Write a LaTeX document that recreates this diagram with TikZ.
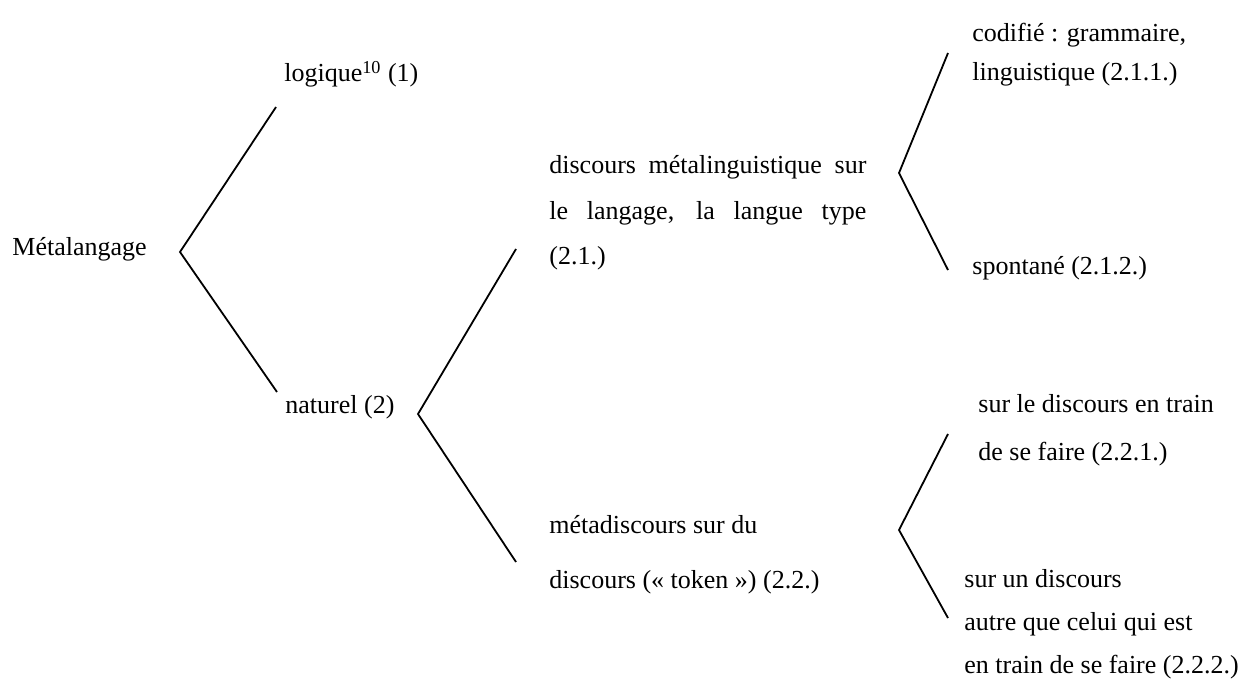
\documentclass[tikz,border=0pt]{standalone}
\usepackage{fontspec}
\setmainfont{Liberation Serif}
\usepackage{tikz}
\usetikzlibrary{positioning}
\tikzset{label text/.style={inner sep=0pt, anchor=base west, align=left}}
\tikzset{leading/.style={font=\fontsize{13}{#1}\selectfont}}

\begin{document}
\begin{tikzpicture}[
    x=0.5pt, y=-0.5pt,
    font=\fontsize{13}{20}\selectfont
  ]
  \useasboundingbox (0,0) rectangle (1248,684);

  % Global Style Definitions
  \tikzset{
    branch/.style={draw, line width=0.9pt, line join=miter}
  }

  % Root and first level
  \node (meta) [label text] at (12,256) {Métalangage};
  \node (logique) [label text] at (284,82) {logique\textsuperscript{10} (1)};
  \node (naturel) [label text] at (285,413) {naturel (2)};

  % Second level (under naturel), anchored on the last line
  \node (metaling) [label text, leading=22.75pt] at (549,265)
    {\makebox[158.5pt][s]{discours métalinguistique sur}\\
     \makebox[158.5pt][s]{le langage, la langue type}\\
     (2.1.)};
  \node (metadisc) [label text, leading=27.5pt] at (549,588)
    {métadiscours sur du\\discours (« token ») (2.2.)};

  % Third level
  \node (codifie) [label text, leading=19.5pt] at (972,81)
    {codifié : grammaire,\\linguistique (2.1.1.)};
  \node (spontane) [label text] at (972,275) {spontané (2.1.2.)};
  \node (encours) [label text, leading=24pt] at (978,460)
    {sur le discours en train\\de se faire (2.2.1.)};
  \node (autre) [label text, leading=21.5pt] at (964,673)
    {sur un discours\\autre que celui qui est\\en train de se faire (2.2.2.)};

  % Forks
  \coordinate (f1) at (180,252);
  \coordinate (f1up) at (276,107);
  \coordinate (f1down) at (277,392);
  \coordinate (f2) at (418,414);
  \coordinate (f2up) at (516,249);
  \coordinate (f2down) at (516,562);
  \coordinate (f3) at (899,173);
  \coordinate (f3up) at (948,53);
  \coordinate (f3down) at (948,270);
  \coordinate (f4) at (899,530);
  \coordinate (f4up) at (948,434);
  \coordinate (f4down) at (948,618);

  \draw[branch] (f1up) -- (f1) -- (f1down);
  \draw[branch] (f2up) -- (f2) -- (f2down);
  \draw[branch] (f3up) -- (f3) -- (f3down);
  \draw[branch] (f4up) -- (f4) -- (f4down);

\end{tikzpicture}
\end{document}
